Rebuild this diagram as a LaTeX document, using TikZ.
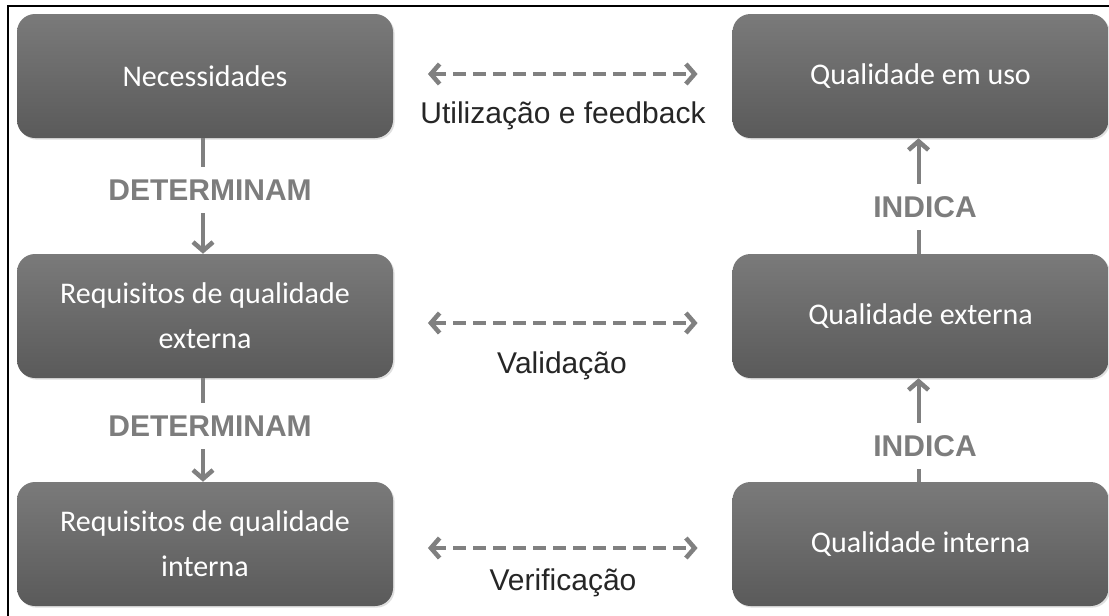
\documentclass[tikz,border=0pt]{standalone}
\usepackage{fontspec}
\setmainfont{Carlito}
\newfontfamily\arialf{Liberation Sans}
\usetikzlibrary{arrows.meta,calc,shadows}
\definecolor{boxtop}{RGB}{122,122,122}
\definecolor{boxbot}{RGB}{90,90,90}
\definecolor{arrgray}{RGB}{128,128,128}
\definecolor{lblgray}{RGB}{125,125,125}
\begin{document}
\begin{tikzpicture}[x=0.75pt,y=-0.75pt,
  tipshape/.style={},
  qbox/.style={rectangle, rounded corners=13.5pt, minimum width=282pt, minimum height=93pt,
     top color=boxtop, bottom color=boxbot, draw=none, text=white, align=center,
     font=\fontsize{22.5}{33.75}\selectfont,
     drop shadow={opacity=0.25, shadow xshift=1.2pt, shadow yshift=-1.2pt}},
  vlink/.style={draw=arrgray, line width=3pt, -{Straight Barb[length=6.5pt,width=15pt,line width=3.4pt]}},
  hlink/.style={draw=arrgray, line width=3pt, dash pattern=on 9.5pt off 5.5pt,
     {Straight Barb[length=6.5pt,width=15pt,line width=3.4pt]}-{Straight Barb[length=6.5pt,width=15pt,line width=3.4pt]},
     shorten <=26pt, shorten >=26pt},
  vlabel/.style={fill=white, text=lblgray, font=\arialf\bfseries\fontsize{22.5}{27}\selectfont, inner sep=2pt, minimum height=34pt},
  hlabel/.style={text=black!85, font=\arialf\fontsize{22.5}{27}\selectfont, inner sep=0pt}
]
\useasboundingbox (0,0) rectangle (1109,615);
\fill[white] (0,0) rectangle (1109,615);
% frame
\draw[black, line width=1.3pt] (8,620) -- (8,6) -- (1115,6);

% boxes
\node[qbox] (nec) at (205,76) {Necessidades};
\node[qbox] (rqe) at (205,316) {Requisitos de qualidade\\externa};
\node[qbox] (rqi) at (205,544) {Requisitos de qualidade\\interna};
\node[qbox] (qeu) at (920.5,76) {Qualidade em uso};
\node[qbox] (qex) at (920.5,316) {Qualidade externa};
\node[qbox] (qin) at (920.5,544) {Qualidade interna};

% vertical connectors
\draw[vlink] ($(nec.south)+(-2,0)$) -- ($(rqe.north)+(-2,0)$);
\draw[vlink] ($(rqe.south)+(-2,0)$) -- ($(rqi.north)+(-2,0)$);
\draw[vlink] ($(qex.north)+(-2,0)$) -- ($(qeu.south)+(-2,0)$);
\draw[vlink] ($(qin.north)+(-2,0)$) -- ($(qex.south)+(-2,0)$);

\node[vlabel] (d1) at (210,190) {DETERMINAM};
\node[vlabel] (d2) at (210,426) {DETERMINAM};
\node[vlabel] (i1) at (925,207) {INDICA};
\node[vlabel] (i2) at (925,446) {INDICA};

% horizontal connectors
\draw[hlink] ($(nec.east)+(0,-2)$) -- ($(qeu.west)+(0,-2)$);
\draw[hlink] ($(rqe.east)+(0,7)$) -- ($(qex.west)+(0,7)$);
\draw[hlink] ($(rqi.east)+(0,4)$) -- ($(qin.west)+(0,4)$);

\node[hlabel] (l1) at (563,116) {Utilização e feedback};
\node[hlabel] (l2) at (562,366) {Validação};
\node[hlabel] (l3) at (563,583) {Verificação};
\end{tikzpicture}
\end{document}
